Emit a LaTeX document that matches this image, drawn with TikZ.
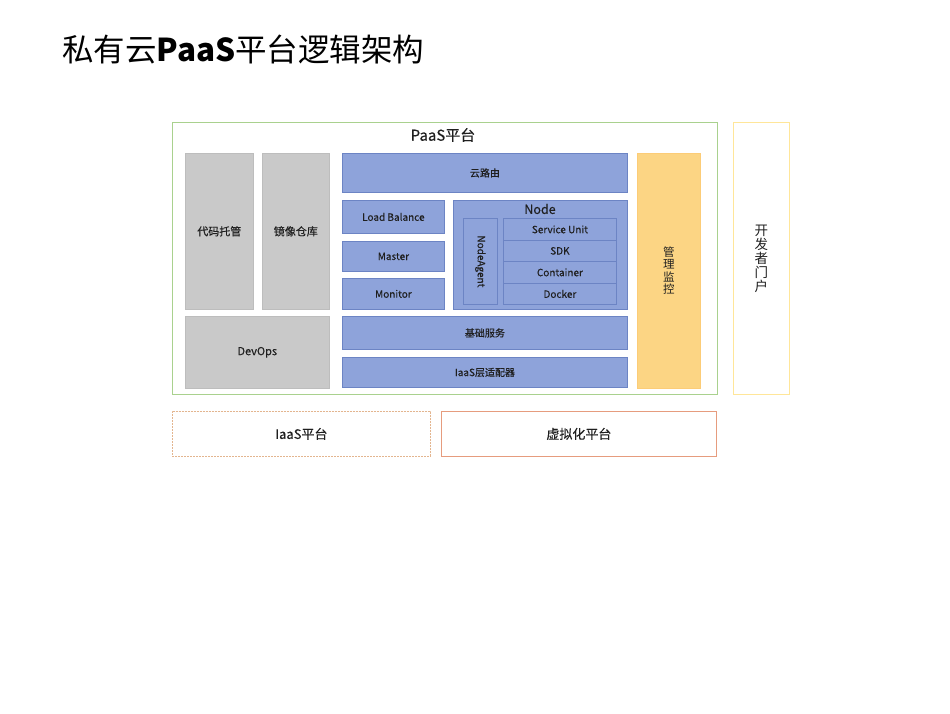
\documentclass[tikz,border=0pt]{standalone}
\usepackage{fontspec}
\setmainfont{Noto Sans CJK SC}
\newfontfamily\cjk{Noto Sans CJK SC}
\newfontfamily\cjkm[FakeBold=0.3]{Noto Sans CJK SC}
\definecolor{bluefill}{HTML}{8EA3DA}
\definecolor{blueline}{HTML}{6C84C4}
\definecolor{grayfill}{HTML}{C9C9C9}
\definecolor{grayline}{HTML}{BDBDBD}
\definecolor{orangefill}{HTML}{FCD584}
\definecolor{greenline}{HTML}{A9D18E}
\definecolor{yellowline}{HTML}{FFE699}
\definecolor{dashline}{HTML}{E3B58F}
\definecolor{virtline}{HTML}{E69C7E}
\definecolor{txt}{HTML}{1F1F1F}
\begin{document}
\begin{tikzpicture}[x=1pt,y=-1pt,
  base/.style={anchor=north west, inner sep=0pt, text=txt, font=\cjkm\fontsize{10}{12}\selectfont, align=center},
  bluebox/.style={base, draw=blueline, fill=bluefill, line width=0.8pt},
  graybox/.style={base, draw=grayline, fill=grayfill, line width=0.6pt, font=\cjkm\fontsize{11}{13}\selectfont},
  frame/.style={base, line width=0.8pt}]
\useasboundingbox[fill=white] (0,0) rectangle (950,713);
% title
\node[anchor=west, inner sep=0pt, text=black, font=\cjk\fontsize{31.5}{34}\selectfont] (title) at (62,50) {私有云\textbf{PaaS}平台逻辑架构};
% PaaS platform frame
\node[frame, draw=greenline, minimum width=545pt, minimum height=272pt] (paas) at (172,122) {};
\node[anchor=center, inner sep=0pt, text=txt, font=\cjkm\fontsize{15}{17}\selectfont] (paaslabel) at (443,135) {PaaS平台};
% gray boxes
\node[graybox, minimum width=68pt, minimum height=156pt] (code) at (185,153) {代码托管};
\node[graybox, minimum width=67pt, minimum height=156pt] (image) at (262,153) {镜像仓库};
\node[graybox, minimum width=144pt, minimum height=72pt] (devops) at (185,316) {DevOps};
% blue boxes
\node[bluebox, minimum width=285pt, minimum height=39pt] (route) at (342,153) {云路由};
\node[bluebox, minimum width=102pt, minimum height=33pt] (lb) at (342,200) {Load Balance};
\node[bluebox, minimum width=102pt, minimum height=30pt] (master) at (342,241) {Master};
\node[bluebox, minimum width=102pt, minimum height=31pt] (monitor) at (342,278) {Monitor};
\node[bluebox, minimum width=174pt, minimum height=109pt] (nodebox) at (453,200) {};
\node[anchor=center, inner sep=0pt, text=txt, font=\cjkm\fontsize{12.5}{14}\selectfont] (nodelabel) at (540,209) {Node};
\node[bluebox, minimum width=34pt, minimum height=86pt] (agent) at (463,218) {};
\node[rotate=-90, inner sep=0pt, text=txt, font=\cjkm\fontsize{10}{12}\selectfont] (agentlabel) at (agent.center) {NodeAgent};
\node[bluebox, minimum width=113pt, minimum height=22pt] (su) at (503,218) {Service Unit};
\node[bluebox, minimum width=113pt, minimum height=21pt] (sdk) at (503,240) {SDK};
\node[bluebox, minimum width=113pt, minimum height=22pt] (container) at (503,261) {Container};
\node[bluebox, minimum width=113pt, minimum height=21pt] (docker) at (503,283) {Docker};
\node[bluebox, minimum width=285pt, minimum height=33pt] (basic) at (342,316) {基础服务};
\node[bluebox, minimum width=285pt, minimum height=30pt] (adapter) at (342,357) {IaaS层适配器};
% management
\node[base, draw=orangefill!90!orange, fill=orangefill, line width=0.6pt, minimum width=63pt, minimum height=235pt, font=\cjk\fontsize{11.5}{12.5}\selectfont] (mgmt) at (637,153) {管\\理\\监\\控};
% developer portal
\node[frame, draw=yellowline, minimum width=56pt, minimum height=272pt, font=\cjk\fontsize{13.5}{14}\selectfont] (portal) at (733,122) {开\\发\\者\\门\\户};
% bottom platforms
\node[frame, draw=dashline, dashed, dash pattern=on 2pt off 1pt, minimum width=258pt, minimum height=45pt, font=\cjkm\fontsize{13}{15}\selectfont] (iaas) at (172,411) {IaaS平台};
\node[frame, draw=virtline, minimum width=275pt, minimum height=45pt, font=\cjkm\fontsize{13}{15}\selectfont] (virt) at (441,411) {虚拟化平台};
\end{tikzpicture}
\end{document}
